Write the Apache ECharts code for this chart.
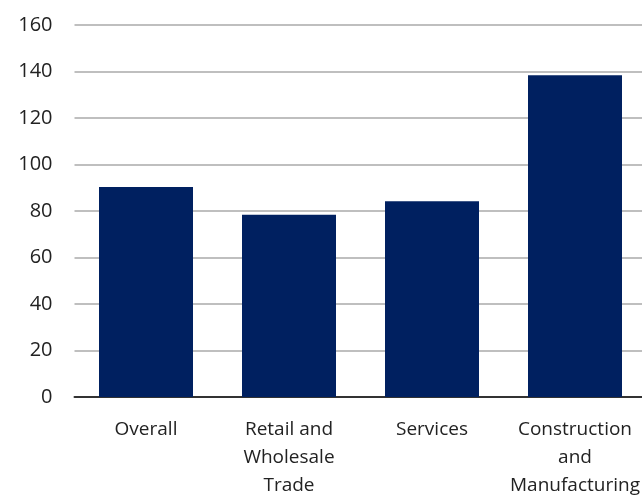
<!DOCTYPE html>
<html>
<head>
<meta charset="utf-8">
<script src="https://cdn.jsdelivr.net/npm/echarts@6/dist/echarts.min.js"></script>
<style>
  html, body { margin: 0; padding: 0; background: #fff; overflow: hidden; }
  /* a bit wider than the window: the last category runs off the right edge, as in the picture */
  #chart { width: 650px; height: 500px; }
</style>
</head>
<body>
<div id="chart"></div>
<script>
// categories (line breaks as in the picture)
var categories = ['Overall', 'Retail and\nWholesale\nTrade', 'Services', 'Construction\nand\nManufacturing']
// values
var values = [90.3, 78.4, 84.2, 138.4]
// y axis ticks
var yMin = 0
var yMax = 160
var yStep = 20

var chart = echarts.init(document.getElementById('chart'), null, { renderer: 'canvas' })

var font = '"Open Sans", sans-serif'

chart.setOption({
  animation: false,
  grid: { left: 74.5, top: 25, width: 572, height: 376, containLabel: false },
  xAxis: {
    type: 'category',
    data: categories,
    axisLine: { show: true, lineStyle: { color: '#333', width: 2 } },
    axisTick: { show: false },
    axisLabel: {
      interval: 0,
      margin: 19,
      color: '#222',
      fontFamily: font,
      fontSize: 19,
      lineHeight: 28,
      align: 'center'
    },
    splitLine: { show: false }
  },
  yAxis: {
    type: 'value',
    min: yMin,
    max: yMax,
    interval: yStep,
    axisLine: { show: false },
    axisTick: { show: false },
    axisLabel: {
      margin: 22,
      color: '#222',
      fontFamily: font,
      fontSize: 20
    },
    splitLine: { show: true, lineStyle: { color: '#bfbfbf', width: 2 } }
  },
  series: [{
    type: 'bar',
    data: values,
    barWidth: 94,
    itemStyle: { color: '#002060' }
  }]
})
</script>
</body>
</html>
